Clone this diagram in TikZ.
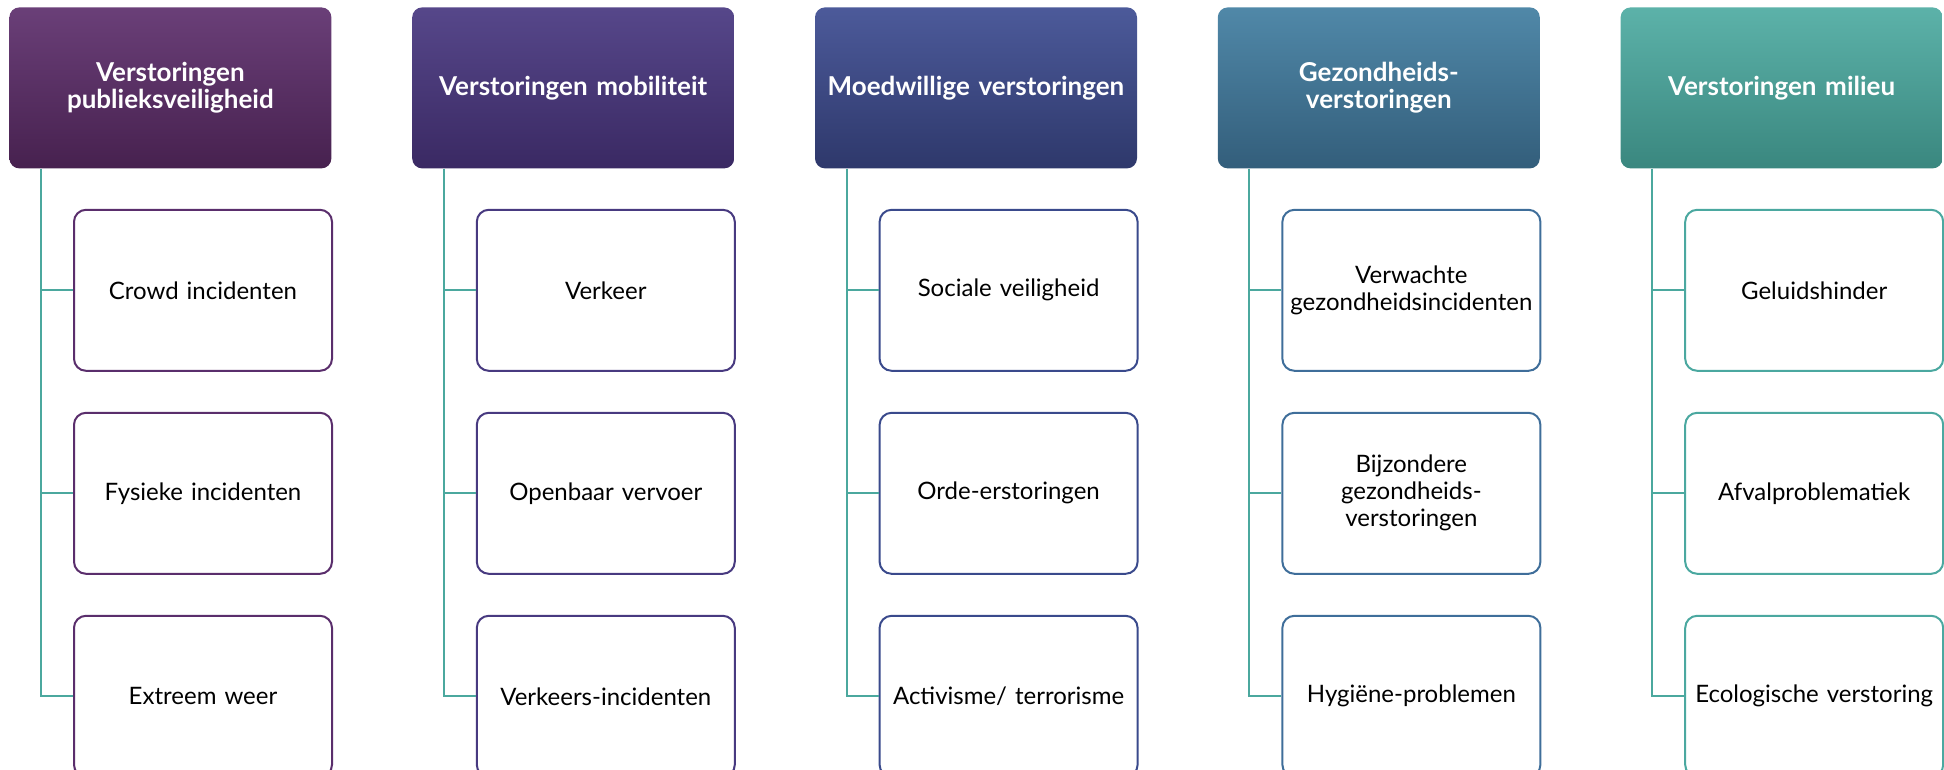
\documentclass[tikz,border=0pt]{standalone}
\usepackage{fontspec}
\setmainfont{Lato}
\usetikzlibrary{positioning}

\definecolor{kop1boven}{HTML}{6A3F78}
\definecolor{kop1onder}{HTML}{47214F}
\definecolor{kop2boven}{HTML}{56478A}
\definecolor{kop2onder}{HTML}{3A2963}
\definecolor{kop3boven}{HTML}{4C5A9A}
\definecolor{kop3onder}{HTML}{2E386B}
\definecolor{kop4boven}{HTML}{5088A8}
\definecolor{kop4onder}{HTML}{335E7B}
\definecolor{kop5boven}{HTML}{5CB2A9}
\definecolor{kop5onder}{HTML}{3A877F}
\definecolor{rand1}{HTML}{5A2E6C}
\definecolor{rand2}{HTML}{483A80}
\definecolor{rand3}{HTML}{3A4A8C}
\definecolor{rand4}{HTML}{3F6E9A}
\definecolor{rand5}{HTML}{4BA8A0}
\definecolor{lijn}{HTML}{4BA89E}

\begin{document}
\begin{tikzpicture}[
	kop/.style={ % kopblok van een kolom
		rounded corners=5pt, inner sep=0pt,
		minimum width=161pt, minimum height=80.5pt,
		text width=158pt, align=center, text=white,
		font=\bfseries\fontsize{13}{13.5}\selectfont
	},
	onderdeel/.style={ % blok onder een kop
		draw=#1, line width=1pt, fill=white,
		rounded corners=6pt, inner sep=0pt,
		minimum width=129pt, minimum height=80.5pt,
		text width=125pt, align=center,
		font=\fontsize{12}{13.5}\selectfont
	},
	tak/.style={draw=lijn, line width=1pt}
]
	\useasboundingbox (0,0) rectangle (972pt,-385pt);
	%% koppen
	\node[kop, anchor=north west, top color=kop1boven, bottom color=kop1onder] (k1) at (4.5pt,-3.5pt) {Verstoringen\\publieksveiligheid};
	\node[kop, right=40pt of k1, top color=kop2boven, bottom color=kop2onder] (k2) {Verstoringen mobiliteit};
	\node[kop, right=40pt of k2, top color=kop3boven, bottom color=kop3onder] (k3) {Moedwillige verstoringen};
	\node[kop, right=40pt of k3, top color=kop4boven, bottom color=kop4onder] (k4) {Gezondheids-\\verstoringen};
	\node[kop, right=40pt of k4, top color=kop5boven, bottom color=kop5onder] (k5) {Verstoringen milieu};

	%% kolom 1
	\node[onderdeel=rand1, below right=20pt and 32pt of k1.south west] (k1a) {Crowd incidenten};
	\node[onderdeel=rand1, below=20pt of k1a] (k1b) {Fysieke incidenten};
	\node[onderdeel=rand1, below=20pt of k1b] (k1c) {Extreem weer};
	%% kolom 2
	\node[onderdeel=rand2, below right=20pt and 32pt of k2.south west] (k2a) {Verkeer};
	\node[onderdeel=rand2, below=20pt of k2a] (k2b) {Openbaar vervoer};
	\node[onderdeel=rand2, below=20pt of k2b] (k2c) {Verkeers-incidenten};
	%% kolom 3
	\node[onderdeel=rand3, below right=20pt and 32pt of k3.south west] (k3a) {Sociale veiligheid};
	\node[onderdeel=rand3, below=20pt of k3a] (k3b) {Orde-erstoringen};
	\node[onderdeel=rand3, below=20pt of k3b] (k3c) {Activisme/ terrorisme};
	%% kolom 4
	\node[onderdeel=rand4, below right=20pt and 32pt of k4.south west] (k4a) {Verwachte\\gezondheidsincidenten};
	\node[onderdeel=rand4, below=20pt of k4a] (k4b) {Bijzondere\\gezondheids-\\verstoringen};
	\node[onderdeel=rand4, below=20pt of k4b] (k4c) {Hygiëne-problemen};
	%% kolom 5
	\node[onderdeel=rand5, below right=20pt and 32pt of k5.south west] (k5a) {Geluidshinder};
	\node[onderdeel=rand5, below=20pt of k5a] (k5b) {Afvalproblematiek};
	\node[onderdeel=rand5, below=20pt of k5b] (k5c) {Ecologische verstoring};

	%% takken van kop naar onderdelen
	\foreach \k in {1,...,5}{
		\coordinate (s\k) at ([xshift=16pt]k\k.south west);
		\draw[tak] (s\k) |- (k\k a.west);
		\draw[tak] (s\k) |- (k\k b.west);
		\draw[tak] (s\k) |- (k\k c.west);
	}
\end{tikzpicture}
\end{document}
